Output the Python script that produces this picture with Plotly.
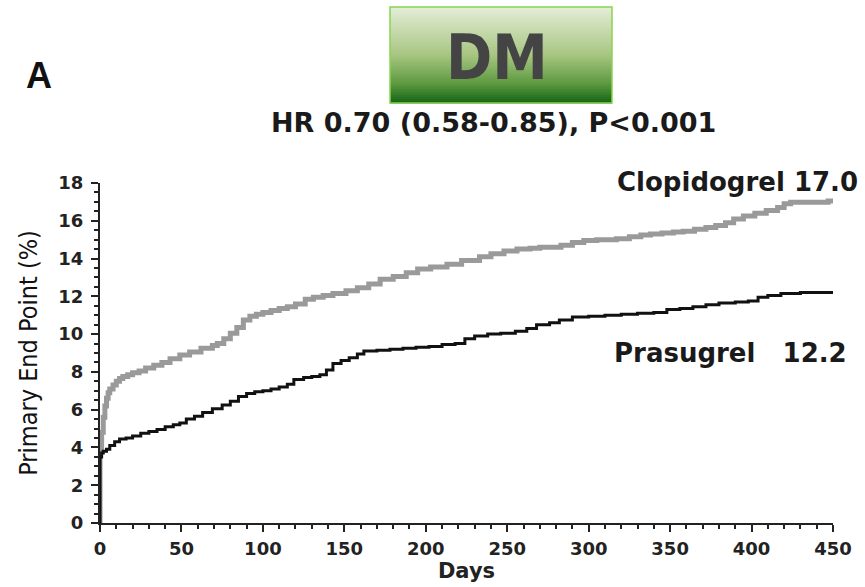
import plotly.graph_objects as go

# ---------------- data ----------------
clop_days = [0, 0, 1, 2, 3, 4, 5, 6, 8, 10, 12, 14, 17, 20, 24, 28, 33, 38, 43, 49, 55, 62, 69, 72, 76, 80, 84, 88,
             92, 96, 100, 105, 110, 115, 120, 126, 131, 137, 143, 151, 158, 165, 172, 180, 188, 195, 203, 213, 222,
             233, 240, 248, 256, 264, 270, 276, 283, 290, 297, 305, 312, 317, 325, 332, 338, 345, 352, 358, 365, 372,
             378, 384, 389, 395, 402, 409, 416, 420, 424, 432, 440, 447, 450]
clop_vals = [0, 4.0, 4.8, 5.6, 6.2, 6.6, 6.9, 7.1, 7.3, 7.5, 7.65, 7.76, 7.85, 7.95, 8.05, 8.2, 8.35, 8.5, 8.7, 8.9,
             9.05, 9.25, 9.4, 9.5, 9.75, 10.05, 10.35, 10.75, 10.95, 11.05, 11.15, 11.25, 11.35, 11.45, 11.6, 11.85,
             11.95, 12.05, 12.15, 12.3, 12.45, 12.65, 12.9, 13.05, 13.25, 13.45, 13.55, 13.7, 13.9, 14.1, 14.25,
             14.4, 14.5, 14.55, 14.6, 14.6, 14.7, 14.85, 14.95, 15.0, 15.0, 15.05, 15.15, 15.25, 15.3, 15.35, 15.4,
             15.45, 15.55, 15.65, 15.75, 15.9, 16.1, 16.25, 16.4, 16.55, 16.7, 16.9, 16.98, 16.98, 16.98, 17.05,
             17.05]

pras_days = [0, 0, 1, 2, 4, 6, 9, 12, 16, 20, 25, 30, 35, 40, 45, 49, 53, 58, 63, 69, 75, 80, 85, 90, 95, 100, 105,
             110, 115, 119, 125, 130, 135, 139, 143, 148, 153, 158, 162, 170, 178, 186, 194, 202, 210, 218, 224, 230,
             238, 246, 255, 262, 268, 276, 282, 290, 300, 310, 320, 330, 340, 348, 356, 364, 372, 380, 390, 398, 404,
             410, 418, 430, 450]
pras_vals = [0, 3.5, 3.7, 3.8, 3.9, 4.1, 4.3, 4.45, 4.5, 4.6, 4.75, 4.85, 4.95, 5.1, 5.2, 5.3, 5.5, 5.65, 5.85, 6.05,
             6.25, 6.45, 6.7, 6.85, 6.95, 7.0, 7.1, 7.2, 7.35, 7.6, 7.7, 7.75, 7.85, 8.1, 8.45, 8.6, 8.75, 8.95, 9.1,
             9.15, 9.2, 9.25, 9.3, 9.35, 9.45, 9.5, 9.75, 9.9, 10.0, 10.05, 10.15, 10.3, 10.5, 10.6, 10.75, 10.9,
             10.95, 11.0, 11.05, 11.1, 11.15, 11.3, 11.35, 11.45, 11.55, 11.65, 11.7, 11.75, 11.95, 12.05, 12.15,
             12.2, 12.2]

x_ticks = [0, 50, 100, 150, 200, 250, 300, 350, 400, 450]
y_ticks = [0, 2, 4, 6, 8, 10, 12, 14, 16, 18]

W, H = 865, 587
ML, MR, MT, MB = 100, 32, 183, 64
PW, PH = W - ML - MR, H - MT - MB


def px(x):
    return (x - ML) / PW


def py(y):
    return (H - MB - y) / PH


fig = go.Figure()
fig.add_trace(go.Scatter(x=clop_days, y=clop_vals, mode="lines", line=dict(color="#9a9a9a", width=5, shape="hv"),
                         showlegend=False, name="Clopidogrel"))
fig.add_trace(go.Scatter(x=pras_days, y=pras_vals, mode="lines", line=dict(color="#111111", width=3, shape="hv"),
                         showlegend=False, name="Prasugrel"))

axis_font = dict(family="DejaVu Sans", size=18, color="#222222", weight="bold")

fig.update_xaxes(range=[0, 450], tickvals=x_ticks, ticks="outside", ticklen=7, tickwidth=2, tickcolor="#222",
                 showline=True, linecolor="#222", linewidth=2, showgrid=False, zeroline=False,
                 tickfont=axis_font, ticklabelstandoff=1, automargin=False,
                 minor=dict(dtick=10, ticks="outside", ticklen=4, tickwidth=1.5, tickcolor="#222", showgrid=False),
                 title=dict(text="Days", font=dict(family="DejaVu Sans", size=21, color="#222",
                                                   weight="bold"), standoff=6))
fig.update_yaxes(range=[0, 18], tickvals=y_ticks, ticks="outside", ticklen=7, tickwidth=2, tickcolor="#222",
                 showline=True, linecolor="#222", linewidth=2, showgrid=False, zeroline=False,
                 tickfont=axis_font, ticklabelstandoff=4, automargin=False,
                 minor=dict(dtick=0.5, ticks="outside", ticklen=4, tickwidth=1.5, tickcolor="#222", showgrid=False),
                 title=dict(text="Primary End Point (%)",
                            font=dict(family="Liberation Sans Narrow, DejaVu Sans Condensed", size=25, color="#111"),
                            standoff=14))

# gradient box for "DM"
bx0, bx1, by0, by1 = 390, 612, 7, 103
n = 48
stops = [(0.0, (226, 237, 214)), (0.5, (168, 198, 130)), (0.8, (95, 155, 65)), (1.0, (24, 104, 24))]
shapes = []
for i in range(n):
    t = i / (n - 1)
    for j in range(len(stops) - 1):
        if stops[j][0] <= t <= stops[j + 1][0]:
            t0, a = stops[j]
            t1, b = stops[j + 1]
            s = (t - t0) / (t1 - t0)
            break
    c = tuple(int(a[k] + (b[k] - a[k]) * s) for k in range(3))
    y0 = by0 + (by1 - by0) * i / n
    y1 = by0 + (by1 - by0) * (i + 1) / n + 0.6
    shapes.append(dict(type="rect", xref="paper", yref="paper", x0=px(bx0), x1=px(bx1), y0=py(y1), y1=py(y0),
                       fillcolor="rgb(%d,%d,%d)" % c, line=dict(width=0), layer="above"))
shapes.append(dict(type="rect", xref="paper", yref="paper", x0=px(bx0), x1=px(bx1), y0=py(by1), y1=py(by0),
                   fillcolor="rgba(0,0,0,0)", line=dict(color="#8bd452", width=1.5), layer="above"))

title_font = dict(family="DejaVu Sans", size=26, color="#1a1a1a", weight="bold")


def ann(text, x, y, font):
    return dict(text=text, xref="paper", yref="paper", x=px(x), y=py(y), xanchor="center", yanchor="middle",
                showarrow=False, font=font)


annotations = [
    ann("DM", 497, 57, dict(family="DejaVu Sans Condensed", size=62, color="#444444", weight="bold")),
    ann("A", 39, 75, dict(family="Liberation Sans, Arial", size=36, color="#111111", weight="bold")),
    ann("HR 0.70 (0.58-0.85), P<0.001", 493, 122, dict(family="DejaVu Sans", size=27, color="#1a1a1a",
                                                      weight="bold")),
    ann("Clopidogrel 17.0", 737, 182, title_font),
    ann("Prasugrel   12.2", 730, 353, title_font),
]

fig.update_layout(width=W, height=H, margin=dict(l=ML, r=MR, t=MT, b=MB, autoexpand=False), plot_bgcolor="white",
                  paper_bgcolor="white", shapes=shapes, annotations=annotations)

fig.write_html("out.html")
